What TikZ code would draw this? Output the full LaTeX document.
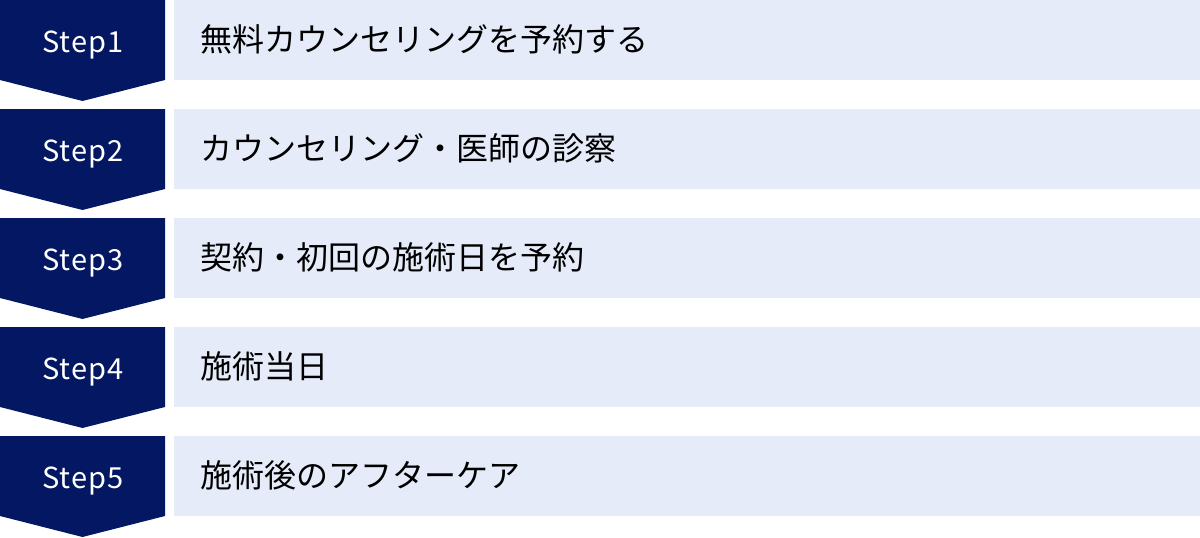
\documentclass[tikz,border=0pt]{standalone}
\usepackage{fontspec}
\setmainfont{Noto Sans CJK JP}
\definecolor{navy}{RGB}{3,23,98}
\definecolor{lightbg}{RGB}{229,235,249}
\tikzset{
  stepshape/.style={fill=navy, draw=none},
  stepbg/.style={fill=lightbg, draw=none},
  steplabel/.style={text=white, font=\fontsize{29}{34}\selectfont\addfontfeatures{LetterSpace=4}, inner sep=0pt, anchor=base},
  desclabel/.style={text=black, font=\fontsize{32}{38}\selectfont, inner sep=0pt, anchor=base west}
}
\begin{document}
\begin{tikzpicture}[x=1pt,y=-1pt]
\useasboundingbox (0,0) rectangle (1200,538);
\foreach \i/\t in {0/{無料カウンセリングを予約する},1/{カウンセリング・医師の診察},2/{契約・初回の施術日を予約},3/{施術当日},4/{施術後のアフターケア}}{
  \pgfmathsetmacro{\yy}{109*\i}
  \pgfmathtruncatemacro{\n}{\i+1}
  \fill[stepshape] (0,\yy) -- (165,\yy) -- (165,\yy+80) -- (82.5,\yy+101) -- (0,\yy+80) -- cycle;
  \fill[stepbg] (174,\yy) rectangle (1200,\yy+80);
  \node[steplabel] (s\n) at (83,\yy+52.5) {Step\n};
  \node[desclabel] (d\n) at (200,\yy+51) {\t};
}
\end{tikzpicture}
\end{document}
